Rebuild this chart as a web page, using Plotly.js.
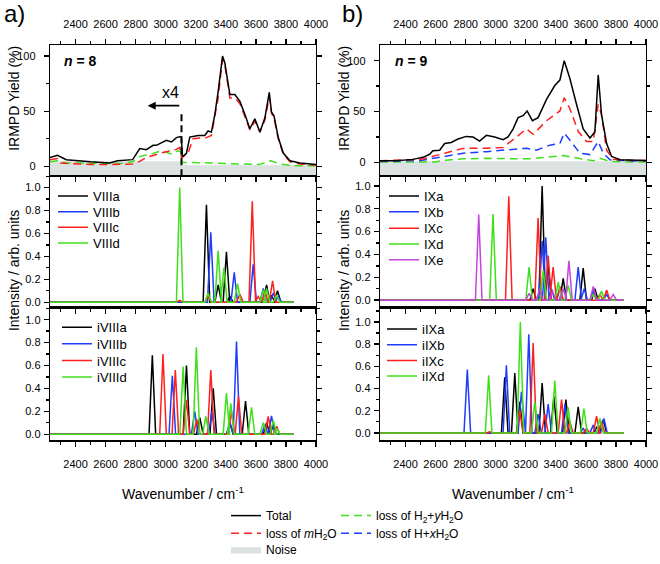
<!DOCTYPE html>
<html><head><meta charset="utf-8">
<script src="https://cdn.plot.ly/plotly-3.0.1.min.js"></script>
<style>html,body{margin:0;padding:0;background:#fff}#chart{width:660px;height:564px}</style>
</head><body><div id="chart"></div>
<script>
// ---------- Experimental IRMPD spectra (n = 8) ----------
const a_total_x = [2230,2280,2338,2400,2500,2627,2680,2780,2827,2871,2916,2938,2993,3004,3038,3071,3098,3104,3111,3138,3160,3216,3260,3282,3304,3327,3349,3378,3393,3427,3460,3493,3527,3560,3593,3627,3660,3689,3704,3720,3749,3782,3827,3893,4000];
const a_total_y = [8,10,6,5,4,3,5,6,16,15,19,19,23,23.5,22,26,27,26,8.8,11.8,26.5,28,28,32,31,47,68,100,94,65,65,59,47,34,43,31,44,67,49,46,26,12,5,3,1.5];
const a_mloss_x = [2230,2280,2295,2400,2500,2627,2700,2780,2827,2871,2938,2960,3071,3093,3106,3149,3182,3271,3304,3349,3378,3393,3427,3460,3493,3527,3560,3593,3627,3660,3689,3704,3720,3749,3782,3827,3893,4000];
const a_mloss_y = [6,7,3,2,1.5,1.5,1.5,2,4.4,8,10.6,11.8,15.3,17,7.4,12,25,26,28,62,97,92,62,62,57,45,33,41,31,42,63,48,44,25,11,4,2,1];
const a_h2loss_x = [2230,2280,2340,2500,2700,2780,2830,2900,2971,3040,3082,3100,3106,3300,3500,3620,3700,3760,3850,4000];
const a_h2loss_y = [4,5,3,2.5,2.5,4,9,11,14,11,14,13,3.5,3,2,1.5,5,2,0.5,0.5];
const a_noise_x = [2230,3105,3105,4000];
const a_noise_y = [4.4,4.4,1.0,1.0];
const a_scaleBreak = 3105;

// ---------- Experimental IRMPD spectra (n = 9) ----------
const b_total_x = [2230,2338,2449,2516,2560,2582,2627,2660,2704,2749,2804,2849,2893,2938,2993,3049,3082,3116,3149,3182,3209,3244,3282,3338,3393,3427,3456,3493,3538,3582,3627,3660,3682,3704,3738,3771,3827,4000];
const b_total_y = [1.6,1.6,3,5,8,11.5,12,18.6,19.6,23,25.6,25,21,26.6,25,22.4,25,33,44,46,50.6,41,44,62,75.6,81,100,82.7,57,33,24,30,86,47,18.6,5.8,2.6,2];
const b_mloss_x = [2230,2500,2660,2782,2938,3049,3138,3204,3249,3338,3427,3456,3493,3549,3604,3649,3682,3704,3738,3782,3900,4000];
const b_mloss_y = [1.6,3,9,13.8,14,14.7,25,33,27.6,41,50.6,63.5,53,30.4,20.5,20.5,57,47,12,3,2,2];
const b_hloss_x = [2230,2500,2627,2782,2938,3049,3138,3204,3271,3360,3427,3456,3493,3560,3627,3682,3716,3760,3900,4000];
const b_hloss_y = [1,2,5,9,10.6,12,13.8,14,12,17,18.6,28.8,22,9,7.7,20.5,9,2.6,1.5,1.5];
const b_h2loss_x = [2230,2600,2649,2782,2938,3227,3449,3560,3649,3693,3760,3900,4000];
const b_h2loss_y = [0.5,0.5,2,3.5,4,3.5,6.7,3.5,1.6,4,1,0.5,0.5];
const b_noise_x = [2230,4000];
const b_noise_y = [1.0,1.0];

// ---------- Calculated spectra: peak positions (cm-1) and intensities ----------
const specStart = 2230, specEnd = 3850;
const VIIIa_pos = [3271,3349,3404,3427,3671,3704,3744], VIIIa_int = [0.85,0.15,0.44,0.05,0.15,0.06,0.10];
const VIIIb_pos = [3300,3456,3582,3649,3716,3749],      VIIIb_int = [0.61,0.26,0.33,0.12,0.08,0.05];
const VIIIc_pos = [3093,3282,3493,3576,3616,3660,3711], VIIIc_int = [0.015,0.05,0.07,0.88,0.05,0.10,0.185];
const VIIId_pos = [3093,3282,3349,3387,3478,3649,3671,3738], VIIId_int = [1.0,0.08,0.45,0.30,0.16,0.11,0.12,0.06];

const iVIIIa_pos = [2911,3138,3227,3316,3427,3531,3671,3716], iVIIIa_int = [0.69,0.60,0.145,0.40,0.10,0.29,0.10,0.08];
const iVIIIb_pos = [3044,3193,3307,3427,3471,3660,3704],      iVIIIb_int = [0.51,0.20,0.20,0.10,0.81,0.08,0.16];
const iVIIIc_pos = [2982,3064,3138,3207,3300,3438,3484,3682,3738], iVIIIc_int = [0.70,0.56,0.30,0.13,0.56,0.20,0.33,0.155,0.07];
const iVIIId_pos = [3116,3204,3267,3404,3433,3571,3649,3716,3740], iVIIId_int = [0.59,0.76,0.155,0.36,0.27,0.235,0.10,0.12,0.05];

const IXa_pos = [3249,3309,3349,3449,3582,3660], IXa_int = [0.10,1.0,0.30,0.19,0.28,0.10];
const IXb_pos = [3309,3333,3371,3427,3549,3589,3649,3738], IXb_int = [0.52,0.55,0.10,0.10,0.29,0.10,0.09,0.05];
const IXc_pos = [3087,3282,3349,3382,3427,3693,3738], IXc_int = [0.91,0.72,0.39,0.29,0.12,0.05,0.09];
const IXd_pos = [2982,3222,3316,3416,3482,3649,3704], IXd_int = [0.755,0.29,0.26,0.16,0.13,0.05,0.08];
const IXe_pos = [2887,3222,3293,3378,3449,3487,3649,3782], IXe_int = [0.75,0.06,0.10,0.08,0.10,0.345,0.12,0.05];

const iIXa_pos = [3060,3127,3160,3309,3387,3467,3549,3671,3716], iIXa_int = [0.50,0.54,0.28,0.45,0.33,0.30,0.235,0.05,0.12];
const iIXb_pos = [2811,3071,3171,3220,3282,3349,3460,3582,3649,3720], iIXb_int = [0.57,0.61,0.37,0.89,0.17,0.26,0.26,0.04,0.07,0.13];
const iIXc_pos = [2960,3160,3249,3327,3438,3493,3604,3671,3704], iIXc_int = [0.01,0.20,0.81,0.17,0.30,0.10,0.04,0.15,0.10];
const iIXd_pos = [2953,3164,3260,3393,3482,3587,3693], iIXd_int = [0.52,1.0,0.28,0.47,0.23,0.22,0.13];

// ---------- styling ----------
const FONT = 'Liberation Sans, Arial, Helvetica, sans-serif';
const C = {k:'#000000', b:'#1f3dff', r:'#ff1f1f', g:'#3ee01a', m:'#c445dc', noise:'#dce1e1'};
const W = 660, H = 564;
const px = v => v / W, py = v => 1 - v / H;
const colA = [px(50), px(316)], colB = [px(380), px(646)];
const dTop = [py(180), py(46)], dMid = [py(314), py(180)], dBot = [py(450), py(314)];
const HW = 22; // half-width of drawn peak profile (cm-1)

// one legend box per entry so that each row can be placed like the original
const legends = {};
let legN = 0;
function legAt(xLine, yCenter, size) {
  legN += 1;
  const id = legN === 1 ? 'legend' : 'legend' + legN;
  legends[id] = {x: px(xLine - 6), y: py(yCenter - 9), xanchor: 'left', yanchor: 'top',
                 bgcolor: 'rgba(0,0,0,0)', borderwidth: 0, font: {family: FONT, size: size, color: '#000'}};
  return id;
}

function peakLine(pos, inten) {
  const idx = pos.map((_, i) => i).sort((a, b) => pos[a] - pos[b]);
  const xs = [specStart], ys = [0];
  idx.forEach(i => { xs.push(pos[i] - HW, pos[i], pos[i] + HW); ys.push(0, inten[i], 0); });
  xs.push(specEnd); ys.push(0);
  return {x: xs, y: ys};
}
function spec(pos, inten, name, color, xa, ya, leg) {
  const d = peakLine(pos, inten);
  return {x: d.x, y: d.y, xaxis: xa, yaxis: ya, name: name, mode: 'lines', legend: leg,
          line: {color: color, width: 1.5}, hoverinfo: 'skip'};
}
const DASH = '8px,5px';
const traces = [];
// top panel a
traces.push({x: a_noise_x.concat([4000, 2230]), y: a_noise_y.concat([-9, -9]), fill: 'toself', fillcolor: C.noise,
  line: {width: 0.5, color: C.noise}, mode: 'lines', name: 'Noise', xaxis: 'x', yaxis: 'y', legend: legAt(232, 556, 12), hoverinfo: 'skip'});
traces.push({x: a_h2loss_x, y: a_h2loss_y, mode: 'lines', line: {color: C.g, width: 1.5, dash: DASH}, name: 'loss of H<sub>2</sub>+<i>y</i>H<sub>2</sub>O', xaxis: 'x', yaxis: 'y', legend: legAt(342, 521, 12)});
traces.push({x: a_mloss_x, y: a_mloss_y, mode: 'lines', line: {color: C.r, width: 1.5, dash: DASH}, name: 'loss of <i>m</i>H<sub>2</sub>O', xaxis: 'x', yaxis: 'y', legend: legAt(232, 539, 12)});
traces.push({x: a_total_x, y: a_total_y, mode: 'lines', line: {color: C.k, width: 1.5}, name: 'Total', xaxis: 'x', yaxis: 'y', legend: legAt(232, 521, 12)});
// top panel b
traces.push({x: b_noise_x.concat([4000, 2230]), y: b_noise_y.concat([-13.5, -13.5]), fill: 'toself', fillcolor: C.noise,
  line: {width: 0.5, color: C.noise}, mode: 'lines', name: 'Noise', xaxis: 'x4', yaxis: 'y4', showlegend: false, hoverinfo: 'skip'});
traces.push({x: b_h2loss_x, y: b_h2loss_y, mode: 'lines', line: {color: C.g, width: 1.5, dash: DASH}, name: 'loss of H2+yH2O', xaxis: 'x4', yaxis: 'y4', showlegend: false});
traces.push({x: b_hloss_x, y: b_hloss_y, mode: 'lines', line: {color: C.b, width: 1.5, dash: DASH}, name: 'loss of H+<i>x</i>H<sub>2</sub>O', xaxis: 'x4', yaxis: 'y4', legend: legAt(342, 539, 12)});
traces.push({x: b_mloss_x, y: b_mloss_y, mode: 'lines', line: {color: C.r, width: 1.5, dash: DASH}, name: 'loss of mH2O', xaxis: 'x4', yaxis: 'y4', showlegend: false});
traces.push({x: b_total_x, y: b_total_y, mode: 'lines', line: {color: C.k, width: 1.5}, name: 'Total', xaxis: 'x4', yaxis: 'y4', showlegend: false});
// calculated spectra
traces.push(spec(VIIIa_pos, VIIIa_int, 'VIIIa', C.k, 'x2', 'y2', legAt(59, 194, 13)));
traces.push(spec(VIIIb_pos, VIIIb_int, 'VIIIb', C.b, 'x2', 'y2', legAt(59, 210, 13)));
traces.push(spec(VIIIc_pos, VIIIc_int, 'VIIIc', C.r, 'x2', 'y2', legAt(59, 226, 13)));
traces.push(spec(VIIId_pos, VIIId_int, 'VIIId', C.g, 'x2', 'y2', legAt(59, 242, 13)));
traces.push(spec(iVIIIa_pos, iVIIIa_int, 'iVIIIa', C.k, 'x3', 'y3', legAt(63, 328, 13)));
traces.push(spec(iVIIIb_pos, iVIIIb_int, 'iVIIIb', C.b, 'x3', 'y3', legAt(63, 345, 13)));
traces.push(spec(iVIIIc_pos, iVIIIc_int, 'iVIIIc', C.r, 'x3', 'y3', legAt(63, 362, 13)));
traces.push(spec(iVIIId_pos, iVIIId_int, 'iVIIId', C.g, 'x3', 'y3', legAt(63, 379, 13)));
traces.push(spec(IXa_pos, IXa_int, 'IXa', C.k, 'x5', 'y5', legAt(390, 194, 13)));
traces.push(spec(IXb_pos, IXb_int, 'IXb', C.b, 'x5', 'y5', legAt(390, 210, 13)));
traces.push(spec(IXc_pos, IXc_int, 'IXc', C.r, 'x5', 'y5', legAt(390, 227, 13)));
traces.push(spec(IXd_pos, IXd_int, 'IXd', C.g, 'x5', 'y5', legAt(390, 243, 13)));
traces.push(spec(IXe_pos, IXe_int, 'IXe', C.m, 'x5', 'y5', legAt(390, 259, 13)));
traces.push(spec(iIXa_pos, iIXa_int, 'iIXa', C.k, 'x6', 'y6', legAt(388, 330, 13)));
traces.push(spec(iIXb_pos, iIXb_int, 'iIXb', C.b, 'x6', 'y6', legAt(388, 346, 13)));
traces.push(spec(iIXc_pos, iIXc_int, 'iIXc', C.r, 'x6', 'y6', legAt(388, 362, 13)));
traces.push(spec(iIXd_pos, iIXd_int, 'iIXd', C.g, 'x6', 'y6', legAt(388, 378, 13)));

// ---------- axes ----------
const xRange = [2230, 4000];
const tickF = {family: FONT, size: 11, color: '#000'};
function xAx(dom, anchor, extra) {
  return Object.assign({domain: dom, anchor: anchor, range: xRange, showline: true, linecolor: '#000', linewidth: 1.3,
    ticks: 'outside', ticklen: 5, tickwidth: 1.3, tickcolor: '#000', tick0: 2400, dtick: 200,
    minor: {dtick: 100, ticklen: 3, tickwidth: 1.3, tickcolor: '#000', ticks: 'outside'},
    showgrid: false, zeroline: false, tickfont: tickF, tickangle: 0, showticklabels: false, mirror: true,
    ticklabeloverflow: 'allow', fixedrange: true}, extra || {});
}
function yAx(dom, anchor, range, dtick, minor, fmt, standoff) {
  return {domain: dom, anchor: anchor, range: range, side: 'left', showline: true, linecolor: '#000', linewidth: 1.3, mirror: 'ticks',
    ticks: 'outside', ticklen: 5, tickwidth: 1.3, tickcolor: '#000', tick0: 0, dtick: dtick, showticklabels: true,
    minor: {dtick: minor, ticklen: 3, tickwidth: 1.3, tickcolor: '#000', ticks: 'outside'},
    showgrid: false, zeroline: false, tickfont: tickF, tickformat: fmt, ticklabeloverflow: 'allow',
    ticklabelstandoff: standoff, fixedrange: true};
}
const xTitle = {text: 'Wavenumber / cm<sup>-1</sup>', font: {family: FONT, size: 14, color: '#000'}, standoff: 20};
const rA1 = [-9, 110], rA2 = [-0.045, 1.1], rA3 = [-0.054, 1.108];
const rB1 = [-13.5, 115.4], rB2 = [-0.063, 1.086], rB3 = [-0.068, 1.132];
const yTitleFont = {family: FONT, size: 14, color: '#000'};

const layout = Object.assign({
  width: W, height: H, margin: {l: 0, r: 0, t: 0, b: 0}, paper_bgcolor: '#fff', plot_bgcolor: 'rgba(0,0,0,0)',
  font: {family: FONT, size: 12, color: '#000'}, hovermode: false, showlegend: true,
  xaxis:  xAx(colA, 'y',  {side: 'top', mirror: 'ticks', showticklabels: true, ticklabelstandoff: 6}),
  xaxis2: xAx(colA, 'y2'),
  xaxis3: xAx(colA, 'y3', {showticklabels: true, title: xTitle, ticklabelstandoff: 8}),
  xaxis4: xAx(colB, 'y4', {side: 'top', mirror: 'ticks', showticklabels: true, ticklabelstandoff: 6}),
  xaxis5: xAx(colB, 'y5'),
  xaxis6: xAx(colB, 'y6', {showticklabels: true, title: xTitle, ticklabelstandoff: 8}),
  yaxis:  yAx(dTop, 'x',  rA1, 50, 25, '', 6),
  yaxis2: yAx(dMid, 'x2', rA2, 0.2, 0.1, '.1f', 1),
  yaxis3: yAx(dBot, 'x3', rA3, 0.2, 0.1, '.1f', 1),
  yaxis4: yAx(dTop, 'x4', rB1, 50, 25, '', 6),
  yaxis5: yAx(dMid, 'x5', rB2, 0.2, 0.1, '.1f', 1),
  yaxis6: yAx(dBot, 'x6', rB3, 0.2, 0.1, '.1f', 1),
  shapes: [
    {type: 'line', xref: 'x', yref: 'y', x0: a_scaleBreak, x1: a_scaleBreak, y0: rA1[0], y1: 50, line: {color: '#000', width: 2, dash: '7px,4px'}}
  ],
  annotations: [
    {xref: 'paper', yref: 'paper', x: px(2), y: py(14), text: 'a)', showarrow: false, xanchor: 'left', yanchor: 'middle', font: {family: FONT, size: 24}},
    {xref: 'paper', yref: 'paper', x: px(340), y: py(14), text: 'b)', showarrow: false, xanchor: 'left', yanchor: 'middle', font: {family: FONT, size: 24}},
    {xref: 'paper', yref: 'paper', x: px(62), y: py(62), text: '<b><i>n</i> = 8</b>', showarrow: false, xanchor: 'left', yanchor: 'middle', font: {family: FONT, size: 14}},
    {xref: 'paper', yref: 'paper', x: px(393), y: py(62), text: '<b><i>n</i> = 9</b>', showarrow: false, xanchor: 'left', yanchor: 'middle', font: {family: FONT, size: 14}},
    {xref: 'x', yref: 'y', x: 3030, y: 67, text: 'x4', showarrow: false, font: {family: FONT, size: 16}},
    {xref: 'x', yref: 'y', x: 2880, y: 55, ax: a_scaleBreak - 5, ay: 55, axref: 'x', ayref: 'y', text: '', showarrow: true, arrowhead: 2, arrowsize: 1, arrowwidth: 1.6, arrowcolor: '#000'},
    {xref: 'paper', yref: 'paper', x: px(14), y: py(101), text: 'IRMPD Yield (%)', textangle: -90, showarrow: false, xanchor: 'center', yanchor: 'middle', font: yTitleFont},
    {xref: 'paper', yref: 'paper', x: px(344), y: py(101), text: 'IRMPD Yield (%)', textangle: -90, showarrow: false, xanchor: 'center', yanchor: 'middle', font: yTitleFont},
    {xref: 'paper', yref: 'paper', x: px(14), y: py(277), text: 'Intensity / arb. units', textangle: -90, showarrow: false, xanchor: 'center', yanchor: 'middle', font: yTitleFont},
    {xref: 'paper', yref: 'paper', x: px(344), y: py(277), text: 'Intensity / arb. units', textangle: -90, showarrow: false, xanchor: 'center', yanchor: 'middle', font: yTitleFont}
  ]
}, legends);
Plotly.newPlot('chart', traces, layout, {staticPlot: true, displayModeBar: false});
</script></body></html>
